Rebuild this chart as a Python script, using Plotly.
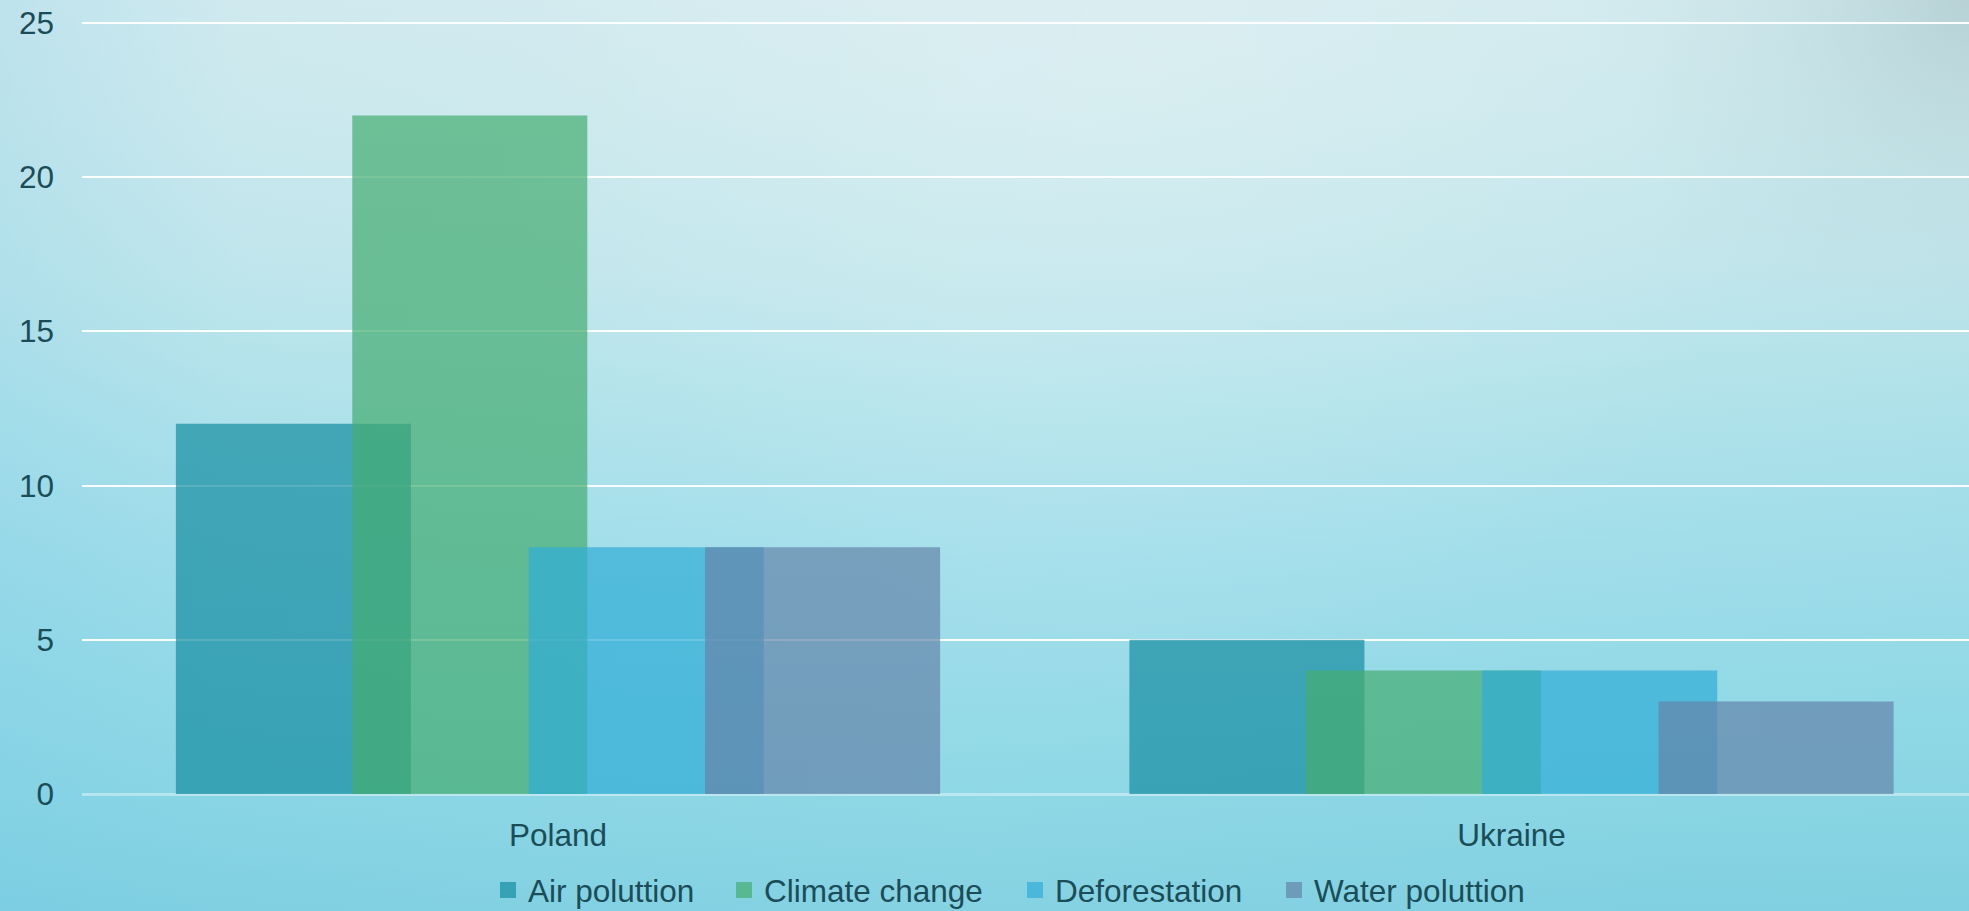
import base64
import plotly.graph_objects as go

# Survey data: number of mentions per environmental issue, by country
countries = ["Poland", "Ukraine"]
series_names = ["Air poluttion", "Climate change", "Deforestation", "Water poluttion"]
air_pollution = [12, 5]
climate_change = [22, 4]
deforestation = [8, 4]
water_pollution = [8, 3]
y_ticks = [0, 5, 10, 15, 20, 25]

series_values = [air_pollution, climate_change, deforestation, water_pollution]
series_colors = [
    "rgba(21,141,161,0.7)",
    "rgba(69,172,112,0.7)",
    "rgba(49,172,213,0.7)",
    "rgba(100,132,169,0.7)",
]

W, H = 1969, 911
Y_TOP = 25.06            # a little headroom so the 25 gridline is not clipped
PX_PER_UNIT = 30.84
M_L, M_R, M_B = 82, 0, 117
PH = round(Y_TOP * PX_PER_UNIT)
M_T = H - M_B - PH
PW = W - M_L - M_R

TEXT = "#1A4D57"
FONT = "Liberation Sans, Arial, sans-serif"
FS = 31.5

# Overlapping bar layout: wide bars stepped across each category slot
BAR_W = 0.2465
STEP = 0.185
first_offset = -(STEP * (len(series_names) - 1) + BAR_W) / 2

# Soft water-coloured backdrop as an inline SVG
bg_svg = f"""<svg xmlns='http://www.w3.org/2000/svg' width='{W}' height='{H}' viewBox='0 0 {W} {H}' preserveAspectRatio='none'>
<defs>
<linearGradient id='v' x1='0' y1='0' x2='0' y2='1'>
<stop offset='0' stop-color='#D4EBEF'/>
<stop offset='0.12' stop-color='#CFEAEE'/>
<stop offset='0.3' stop-color='#C3E7EC'/>
<stop offset='0.45' stop-color='#B2E3EB'/>
<stop offset='0.6' stop-color='#A2DEEA'/>
<stop offset='0.78' stop-color='#92D9E7'/>
<stop offset='0.9' stop-color='#88D5E4'/>
<stop offset='1' stop-color='#80D0E1'/>
</linearGradient>
<linearGradient id='h' x1='0' y1='0' x2='1' y2='0'>
<stop offset='0' stop-color='#6FC6E4' stop-opacity='0.22'/>
<stop offset='0.12' stop-color='#6FC6E4' stop-opacity='0.05'/>
<stop offset='0.5' stop-color='#FFFFFF' stop-opacity='0.04'/>
<stop offset='0.85' stop-color='#7CC8D6' stop-opacity='0.04'/>
<stop offset='1' stop-color='#7CC8D6' stop-opacity='0.08'/>
</linearGradient>
<radialGradient id='tr' gradientUnits='userSpaceOnUse' cx='{W}' cy='0' r='380'>
<stop offset='0' stop-color='#A9C3C6' stop-opacity='0.6'/>
<stop offset='0.5' stop-color='#B4CED1' stop-opacity='0.22'/>
<stop offset='1' stop-color='#C0D8DB' stop-opacity='0'/>
</radialGradient>
<radialGradient id='tc' gradientUnits='userSpaceOnUse' cx='1150' cy='60' r='650'>
<stop offset='0' stop-color='#FFFFFF' stop-opacity='0.15'/>
<stop offset='1' stop-color='#FFFFFF' stop-opacity='0'/>
</radialGradient>
</defs>
<rect x='0' y='0' width='{W}' height='{H}' fill='url(#v)'/>
<rect x='0' y='0' width='{W}' height='{H}' fill='url(#h)'/>
<rect x='0' y='0' width='{W}' height='{H}' fill='url(#tc)'/>
<rect x='0' y='0' width='{W}' height='{H}' fill='url(#tr)'/>
</svg>"""
bg_uri = "data:image/svg+xml;base64," + base64.b64encode(bg_svg.encode()).decode()

fig = go.Figure()

for i, (name, vals, col) in enumerate(zip(series_names, series_values, series_colors)):
    fig.add_trace(go.Bar(
        x=countries, y=vals, name=name,
        width=BAR_W, offset=first_offset + i * STEP,
        marker=dict(color=col, line=dict(width=0)),
        legendgroup=name, showlegend=False,
    ))

# Legend entries with larger square swatches, one legend box per entry
legend_ids = ["legend", "legend2", "legend3", "legend4"]
swatch_left_px = [500, 736, 1027, 1286]
for name, col, lid in zip(series_names, series_colors, legend_ids):
    fig.add_trace(go.Scatter(
        x=[None], y=[None], mode="markers", name=name,
        marker=dict(symbol="square", size=16, color=col, line=dict(width=0)),
        legendgroup=name, legend=lid, showlegend=True,
    ))

legend_y = -(890 - (H - M_B)) / PH
legend_layouts = {}
for lid, sx in zip(legend_ids, swatch_left_px):
    legend_layouts[lid] = dict(
        x=(sx - 12 - M_L) / PW, xanchor="left",
        y=legend_y, yanchor="middle",
        orientation="h",
        bgcolor="rgba(0,0,0,0)", borderwidth=0,
        font=dict(family=FONT, size=FS, color=TEXT),
    )

x_left = -(558 - M_L) / 953.5
x_right = x_left + PW / 953.5

fig.update_layout(
    width=W, height=H,
    margin=dict(l=M_L, r=M_R, t=M_T, b=M_B, pad=0, autoexpand=False),
    paper_bgcolor="#9EDDE9",
    plot_bgcolor="rgba(0,0,0,0)",
    barmode="overlay",
    font=dict(family=FONT, size=FS, color=TEXT),
    images=[dict(
        source=bg_uri, xref="paper", yref="paper",
        x=-M_L / PW, y=1 + M_T / PH,
        sizex=W / PW, sizey=H / PH,
        xanchor="left", yanchor="top",
        sizing="stretch", layer="below",
    )],
    xaxis=dict(
        type="category", range=[x_left, x_right],
        showgrid=False, zeroline=False, showline=False,
        ticks="", ticklabelstandoff=19,
        tickfont=dict(family=FONT, size=FS, color=TEXT),
        fixedrange=True,
    ),
    yaxis=dict(
        range=[0, Y_TOP], tickmode="array", tickvals=y_ticks,
        showgrid=True, gridcolor="rgba(255,255,255,0.95)", gridwidth=2,
        zeroline=True, zerolinecolor="rgba(255,255,255,0.4)", zerolinewidth=3,
        showline=False, ticks="", ticklabelstandoff=27,
        tickfont=dict(family=FONT, size=FS, color=TEXT),
        fixedrange=True,
    ),
    **legend_layouts,
)

fig.write_html("out.html")
